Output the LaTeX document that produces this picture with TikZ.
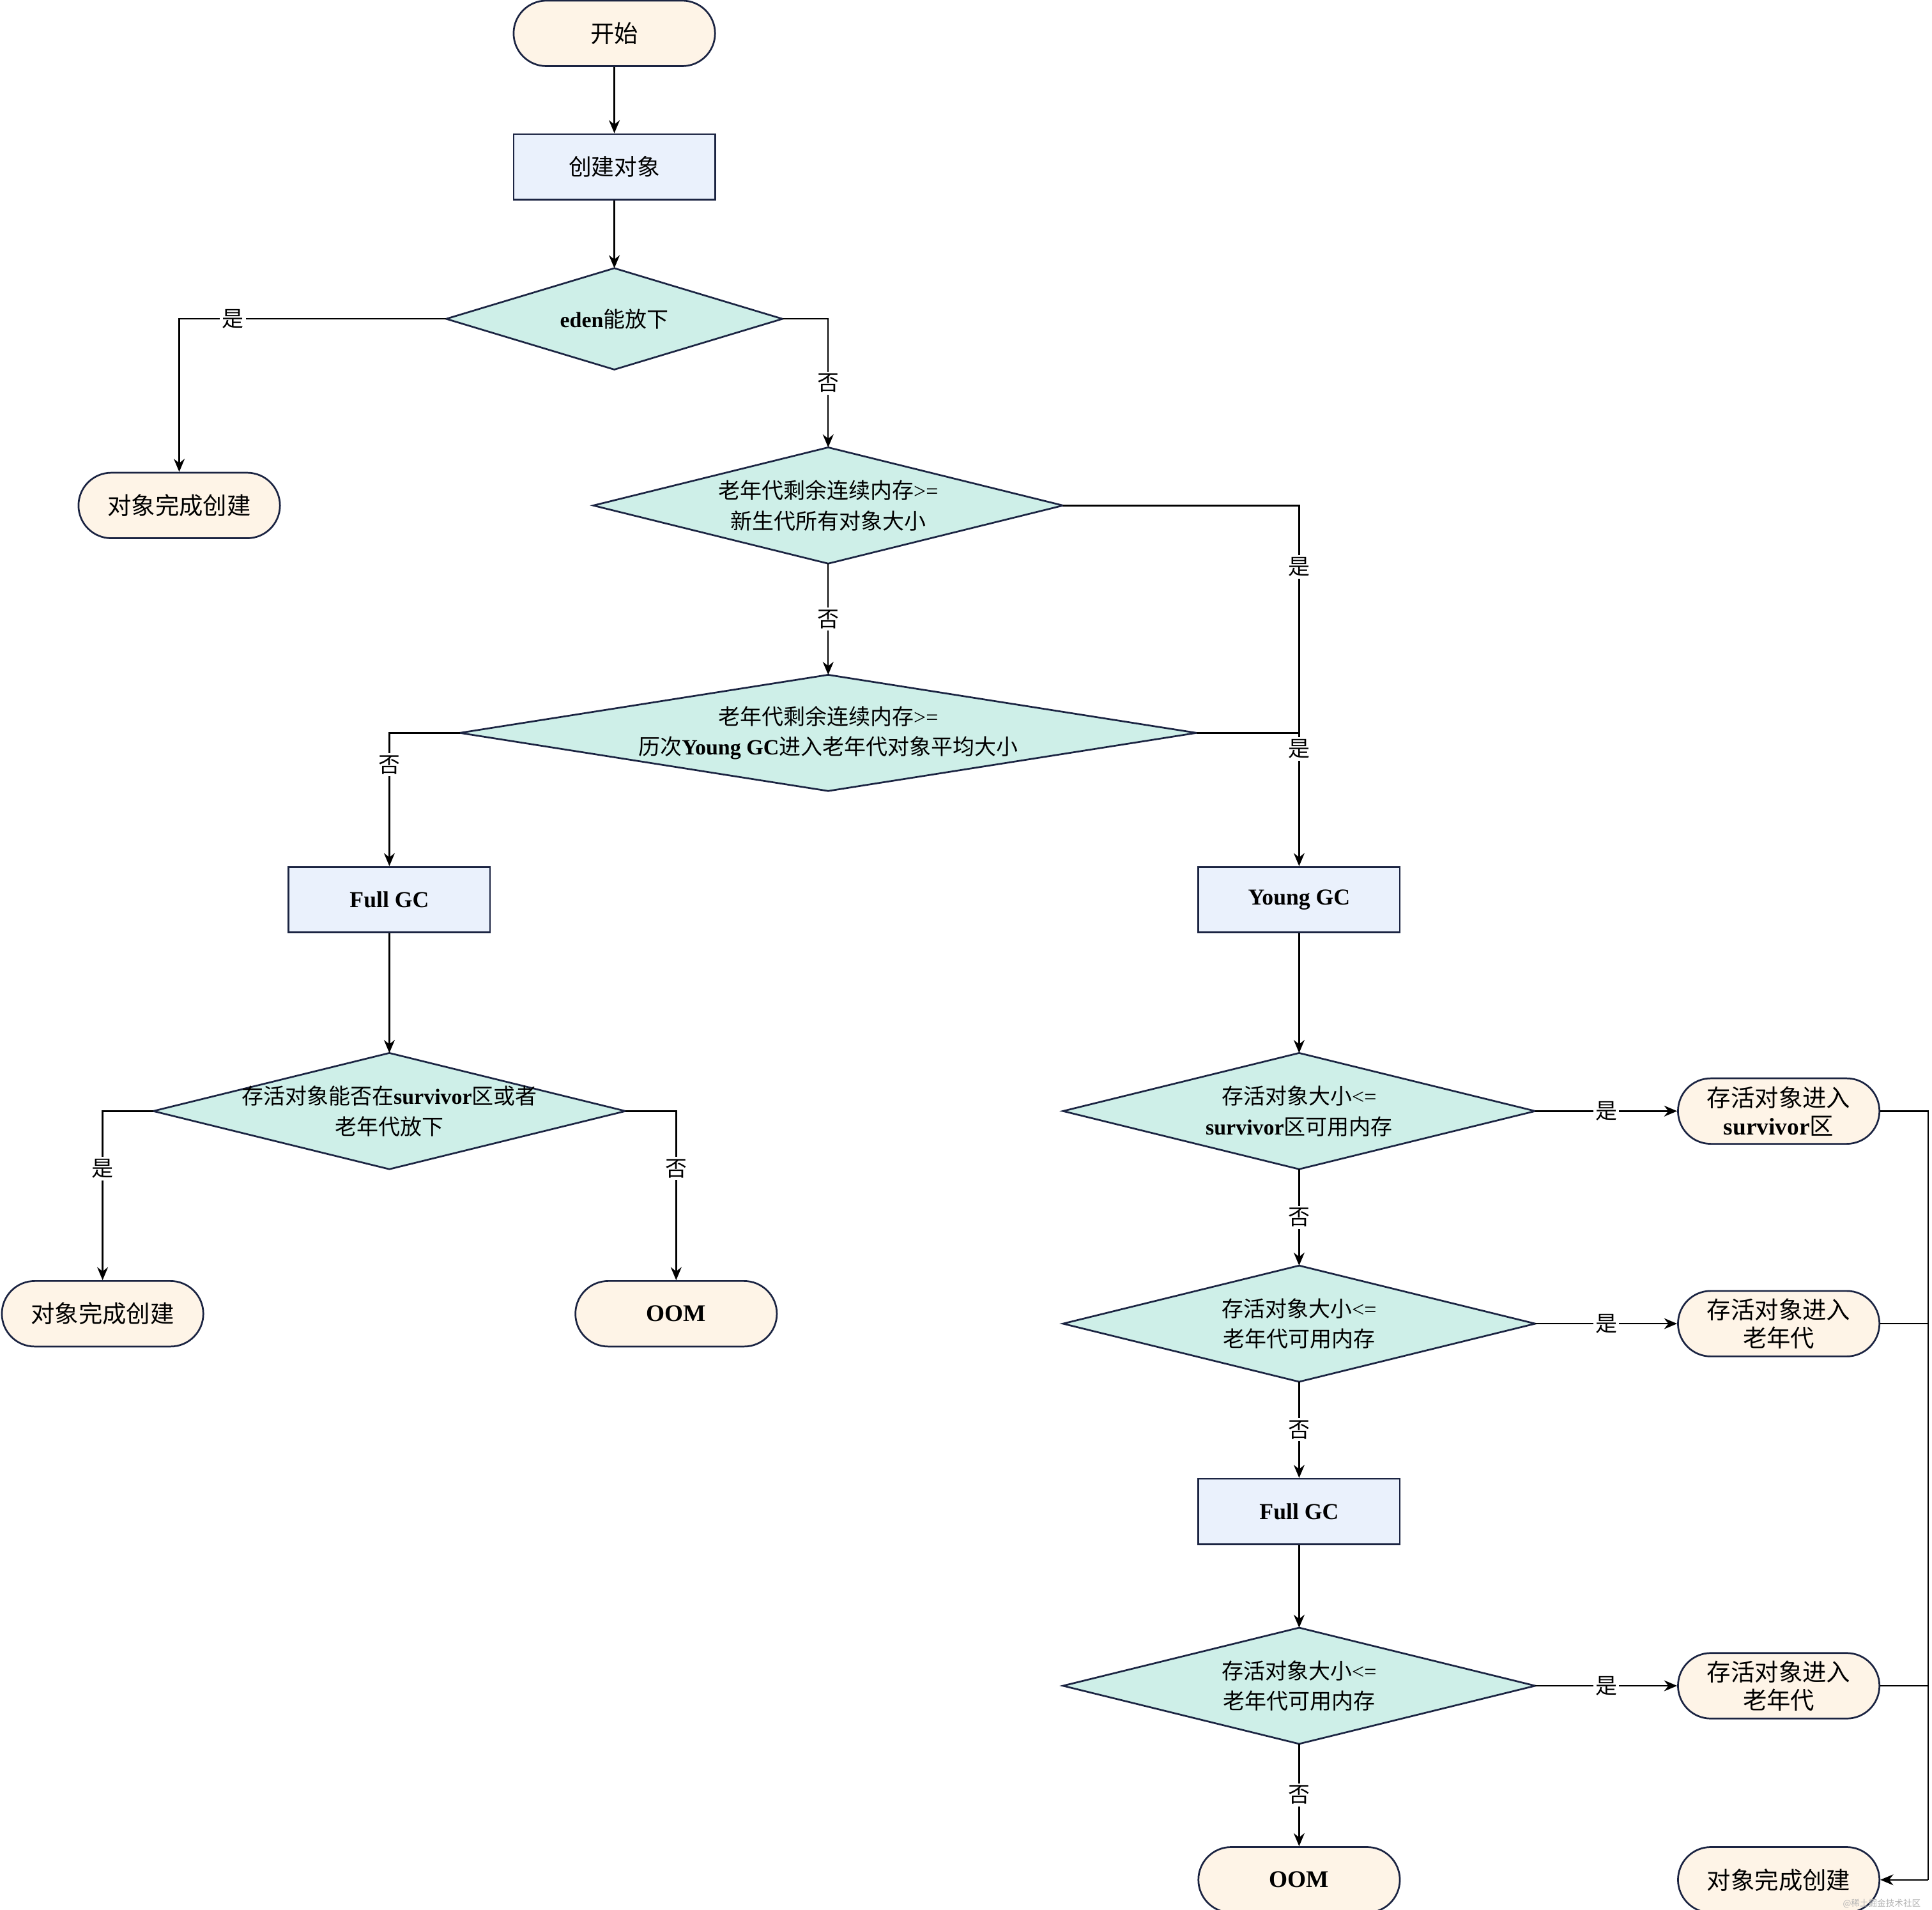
\documentclass[tikz,border=0pt]{standalone}
\usepackage{fontspec}
\setmainfont{Liberation Serif}
\newfontfamily\zhf{Noto Sans CJK SC}
\newcommand\zh[1]{{\zhf #1}}
\usetikzlibrary{arrows.meta}
\definecolor{bd}{HTML}{1B2442}
\definecolor{cst}{HTML}{FEF4E7}
\definecolor{cre}{HTML}{EAF1FC}
\definecolor{cdi}{HTML}{CEEFE8}
\tikzset{
 st/.style={draw=bd,line width=0.8pt,fill=cst,rounded corners=0.53cm,minimum width=3.26cm,minimum height=1.06cm,inner sep=0pt,align=center,font=\fontsize{11}{13}\selectfont},
 re/.style={draw=bd,line width=0.8pt,fill=cre,minimum width=3.26cm,minimum height=1.06cm,inner sep=0pt,font=\fontsize{10.5}{13}\selectfont},
 diaS/.style={draw=bd,line width=0.8pt,fill=cdi},
 dt/.style={align=center,inner sep=0pt,font=\fontsize{10}{14}\selectfont},
 ar/.style={draw=black,line width=0.7pt,-{Stealth[length=6pt,width=5pt]}},
 ln/.style={draw=black,line width=0.7pt},
 lb/.style={fill=white,inner sep=1pt,font=\fontsize{10}{12}\selectfont},
}
\newcommand\dia[6]{%
 \coordinate (#1-t) at (#2,#3-#5);
 \coordinate (#1-b) at (#2,#3+#5);
 \coordinate (#1-l) at (#2-#4,#3);
 \coordinate (#1-r) at (#2+#4,#3);
 \draw[diaS] (#1-t)--(#1-r)--(#1-b)--(#1-l)--cycle;
 \node[dt] (#1) at (#2,#3) {#6};}
\begin{document}
\begin{tikzpicture}[x=0.02cm,y=-0.02cm]
\useasboundingbox (0,0) rectangle (1563,1545);
\node[st] (start) at (497,27) {\zh{开始}};
\node[re] (create) at (497,135) {\zh{创建对象}};
\dia{d1}{497}{258}{136}{41}{\textbf{eden}\zh{能放下}}
\node[st] (ok1) at (145,409) {\zh{对象完成创建}};
\dia{d2}{670}{409}{190}{47}{\zh{老年代剩余连续内存}>=\\\zh{新生代所有对象大小}}
\dia{d3}{670}{593}{298}{47}{\zh{老年代剩余连续内存}>=\\\zh{历次}\textbf{Young GC}\zh{进入老年代对象平均大小}}
\node[re] (fgc1) at (315,728) {\textbf{Full GC}};
\node[re] (ygc) at (1051,728) {\textbf{Young GC}};
\dia{d4}{315}{899}{191}{47}{\zh{存活对象能否在}\textbf{survivor}\zh{区或者}\\\zh{老年代放下}}
\node[st] (ok2) at (83,1063) {\zh{对象完成创建}};
\node[st] (oom1) at (547,1063) {\textbf{OOM}};
\dia{d5}{1051}{899}{191}{47}{\zh{存活对象大小}<=\\\textbf{survivor}\zh{区可用内存}}
\dia{d6}{1051}{1071}{191}{47}{\zh{存活对象大小}<=\\\zh{老年代可用内存}}
\node[re] (fgc2) at (1051,1223) {\textbf{Full GC}};
\dia{d7}{1051}{1364}{191}{47}{\zh{存活对象大小}<=\\\zh{老年代可用内存}}
\node[st] (oom2) at (1051,1521) {\textbf{OOM}};
\node[st] (s1) at (1439,899) {\zh{存活对象进入}\\\textbf{survivor}\zh{区}};
\node[st] (s2) at (1439,1071) {\zh{存活对象进入}\\\zh{老年代}};
\node[st] (s3) at (1439,1364) {\zh{存活对象进入}\\\zh{老年代}};
\node[st] (ok3) at (1439,1521) {\zh{对象完成创建}};
\node[text=gray!60,font=\fontsize{4}{5}\selectfont,anchor=east] (wm) at (1560,1540) {\zh{@稀土掘金技术社区}};
\coordinate (bus) at (1560,1521);
% edges
\draw[ar] (start) -- (create);
\draw[ar] (create) -- (d1-t);
\draw[ar] (d1-l) -- (145,258) node[lb,pos=0.8]{\zh{是}} -- (ok1);
\draw[ar] (d1-r) -- (670,258) -- (d2-t) node[lb,midway]{\zh{否}};
\draw[ar] (d2-b) -- (d3-t) node[lb,midway]{\zh{否}};
\draw[ar] (d2-r) -- (1051,409) -- (ygc) node[lb,pos=0.17]{\zh{是}};
\draw[ln] (d3-r) -- (1051,593);
\node[lb] at (1051,606) {\zh{是}};
\draw[ar] (d3-l) -- (315,593) -- (fgc1) node[lb,pos=0.24]{\zh{否}};
\draw[ar] (fgc1) -- (d4-t);
\draw[ar] (d4-l) -- (83,899) -- (ok2) node[lb,pos=0.34]{\zh{是}};
\draw[ar] (d4-r) -- (547,899) -- (oom1) node[lb,pos=0.34]{\zh{否}};
\draw[ar] (ygc) -- (d5-t);
\draw[ar] (d5-r) -- (s1) node[lb,midway]{\zh{是}};
\draw[ar] (d5-b) -- (d6-t) node[lb,midway]{\zh{否}};
\draw[ar] (d6-r) -- (s2) node[lb,midway]{\zh{是}};
\draw[ar] (d6-b) -- (fgc2) node[lb,midway]{\zh{否}};
\draw[ar] (fgc2) -- (d7-t);
\draw[ar] (d7-r) -- (s3) node[lb,midway]{\zh{是}};
\draw[ar] (d7-b) -- (oom2) node[lb,midway]{\zh{否}};
\draw[ln] (s1.east) -- (1560,899) -- (bus);
\draw[ln] (s2.east) -- (1560,1071);
\draw[ln] (s3.east) -- (1560,1364);
\draw[ar] (bus) -- (ok3.east);
\end{tikzpicture}
\end{document}
